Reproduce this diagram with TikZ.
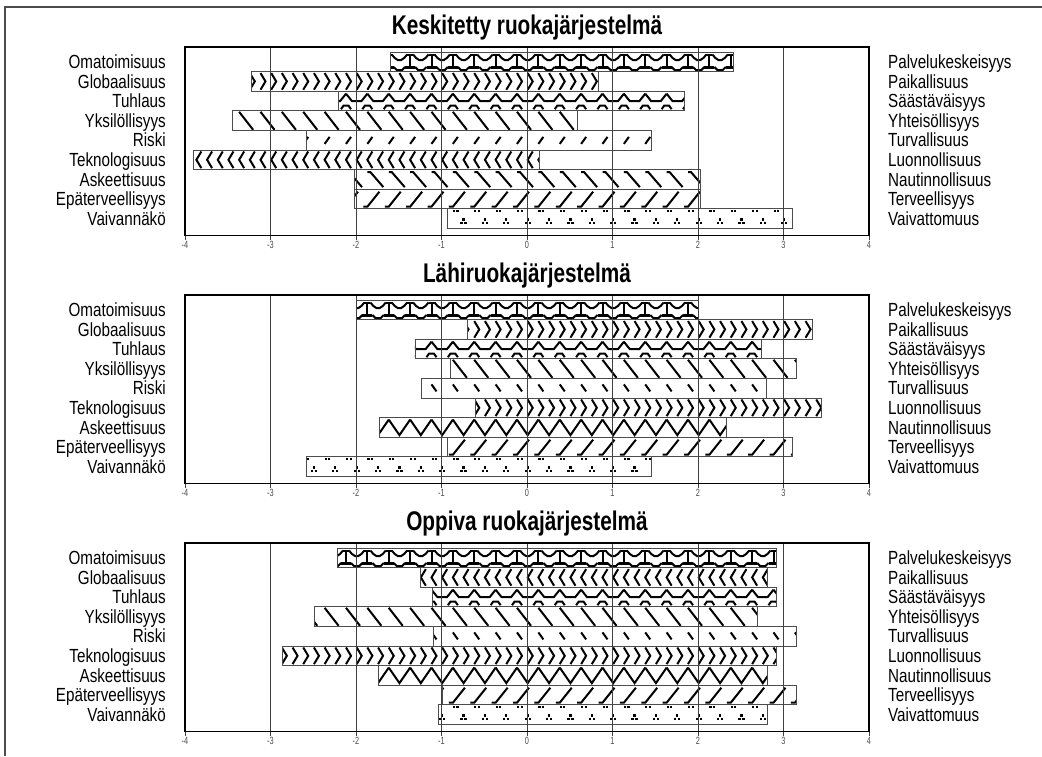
\documentclass[tikz,border=0pt]{standalone}
\usepackage{fontspec}
\setmainfont{Liberation Sans}
\newfontfamily\labfont[FakeStretch=0.8]{Liberation Sans}
\newfontfamily\titfont[FakeStretch=0.77]{Liberation Sans}
\newfontfamily\tickfont[FakeStretch=0.7]{Liberation Sans}

\tikzset{
  mot/.style={line width=2pt, black},
  barline/.style={draw=black!70, line width=0.9pt},
  frameline/.style={draw=black, line width=1.1pt},
  gridline/.style={draw=black!75, line width=0.8pt},
  lab/.style={inner sep=0pt, font=\labfont\fontsize{19}{19}\selectfont},
  ticklab/.style={inner sep=0pt, text=black!70, font=\tickfont\fontsize{10.5}{10.5}\selectfont},
  titlelab/.style={inner sep=0pt, font=\titfont\bfseries\fontsize{27}{27}\selectfont},
}

% motifs of the fill patterns, one cell 21.375 wide, 19.6 high (y runs down)
\newcommand\motT{%
  \draw[mot] (-3,2.5)--(3,2.5);
  \draw[mot] (3,2.5)--(6,6)--(9,8)--(12.4,8)--(15.4,6)--(18.4,2.5);
  \draw[mot] (0,2.5)--(0,14);
  \draw[mot,line width=3pt] (-5,15)--(5,15);
  \draw[mot] (5,15)--(8,18)--(13.4,18)--(16.4,15);}
\newcommand\motCR{%
  \draw[mot] (0,1.5)--(5,9.8)--(0,18.1);
  \draw[mot] (10.7,1.5)--(15.7,9.8)--(10.7,18.1);}
\newcommand\motCL{%
  \draw[mot] (5,1.5)--(0,9.8)--(5,18.1);
  \draw[mot] (15.7,1.5)--(10.7,9.8)--(15.7,18.1);}
\newcommand\motZ{%
  \draw[mot] (0,2.5)--(6,10)--(15.4,10)--(21.4,2.5);
  \draw[mot] (-5,18)--(-2.5,14.5)--(2.5,14.5)--(5,18);}
\newcommand\motB{\draw[mot] (0,1)--(14,19);}
\newcommand\motDF{\draw[mot] (0,13.5)--(5,6.5);}
\newcommand\motDB{\draw[mot] (0,6)--(5,13);}
\newcommand\motA{\draw[mot] (0,2.5)--(3,2.5)--(16,17.5);}
\newcommand\motV{\draw[mot] (0,2)--(10.7,17.5)--(21.4,2);}
\newcommand\motF{\draw[mot] (-4,17.5)--(0,17.5)--(12,2.5);}
\newcommand\motP{%
  \fill (0,1) rectangle +(2.2,2.2); \fill (3.5,1) rectangle +(2.2,2.2);
  \fill (9.6,9.5) rectangle +(2.2,2.2); \fill (7.6,13) rectangle +(2.2,2.2);
  \fill (11.6,13) rectangle +(2.2,2.2);}

% one chart panel: #1 vertical offset, #2 panel id, #3 title, #4 bars (left/right/motif)
\newcommand\chartpanel[4]{%
  \node[titlelab] (#2title) at (527,#1+28) {#3};
  \foreach \l/\r/\m [count=\i from 0] in {#4}{%
    \pgfmathsetmacro\yt{#1+52+19.6*\i}%
    \pgfmathsetmacro\xl{527+85.5*\l}%
    \pgfmathsetmacro\xr{527+85.5*\r}%
    \fill[white] (\xl,\yt) rectangle (\xr,\yt+19.6);
    \begin{scope}
      \clip (\xl,\yt) rectangle (\xr,\yt+19.6);
      \foreach \k in {0,...,33}{%
        \begin{scope}[shift={(185-10+21.375*\k,\yt)}]
          \csname mot\m\endcsname
        \end{scope}}
    \end{scope}
    \draw[barline] (\xl,\yt) rectangle (\xr,\yt+19.6);
  }
  \foreach \v in {-3,...,3}
    \draw[gridline] (527+85.5*\v,#1+47) -- (527+85.5*\v,#1+235.5);
  \draw[frameline] (185,#1+47) rectangle (869,#1+235.5);
  \foreach \v in {-4,...,4}{%
    \draw[gridline] (527+85.5*\v,#1+235.5) -- (527+85.5*\v,#1+240);
    \node[ticklab] (#2tick\v) at (527+85.5*\v,#1+245) {\v};}
  \foreach \t [count=\i from 0] in {Omatoimisuus,Globaalisuus,Tuhlaus,Yksilöllisyys,Riski,Teknologisuus,Askeettisuus,Epäterveellisyys,Vaivannäkö}
    \node[lab,anchor=base east] (#2left\i) at (166,#1+68.5+19.6*\i) {\t};
  \foreach \t [count=\i from 0] in {Palvelukeskeisyys,Paikallisuus,Säästäväisyys,Yhteisöllisyys,Turvallisuus,Luonnollisuus,Nautinnollisuus,Terveellisyys,Vaivattomuus}
    \node[lab,anchor=base west] (#2right\i) at (888,#1+68.5+19.6*\i) {\t};
}

\begin{document}
\begin{tikzpicture}[x=1pt,y=-1pt]
\useasboundingbox (0,0) rectangle (1042,756);
\fill[white] (0,0) rectangle (1042,756);
% page frame
\draw[black!70, line width=1.2pt] (5,756) -- (5,7) -- (1042,7);

\chartpanel{0}{a}{Keskitetty ruokajärjestelmä}{%
  -1.6/2.42/T, -3.22/0.84/CR, -2.21/1.84/Z, -3.45/0.59/B, -2.58/1.46/DF,
  -3.9/0.15/CL, -2.02/2.03/A, -2.02/2.03/F, -0.93/3.11/P}
\chartpanel{248}{b}{Lähiruokajärjestelmä}{%
  -2/2/T, -0.7/3.34/CR, -1.31/2.74/Z, -0.9/3.15/B, -1.24/2.8/DB,
  -0.6/3.44/CR, -1.72/2.33/V, -0.93/3.1/F, -2.58/1.46/P}
\chartpanel{496}{c}{Oppiva ruokajärjestelmä}{%
  -2.22/2.92/T, -1.25/2.81/CL, -1.11/2.92/Z, -2.49/2.69/B, -1.09/3.15/DB,
  -2.86/2.92/CR, -1.74/2.81/V, -0.99/3.15/F, -1.03/2.81/P}
\end{tikzpicture}
\end{document}
